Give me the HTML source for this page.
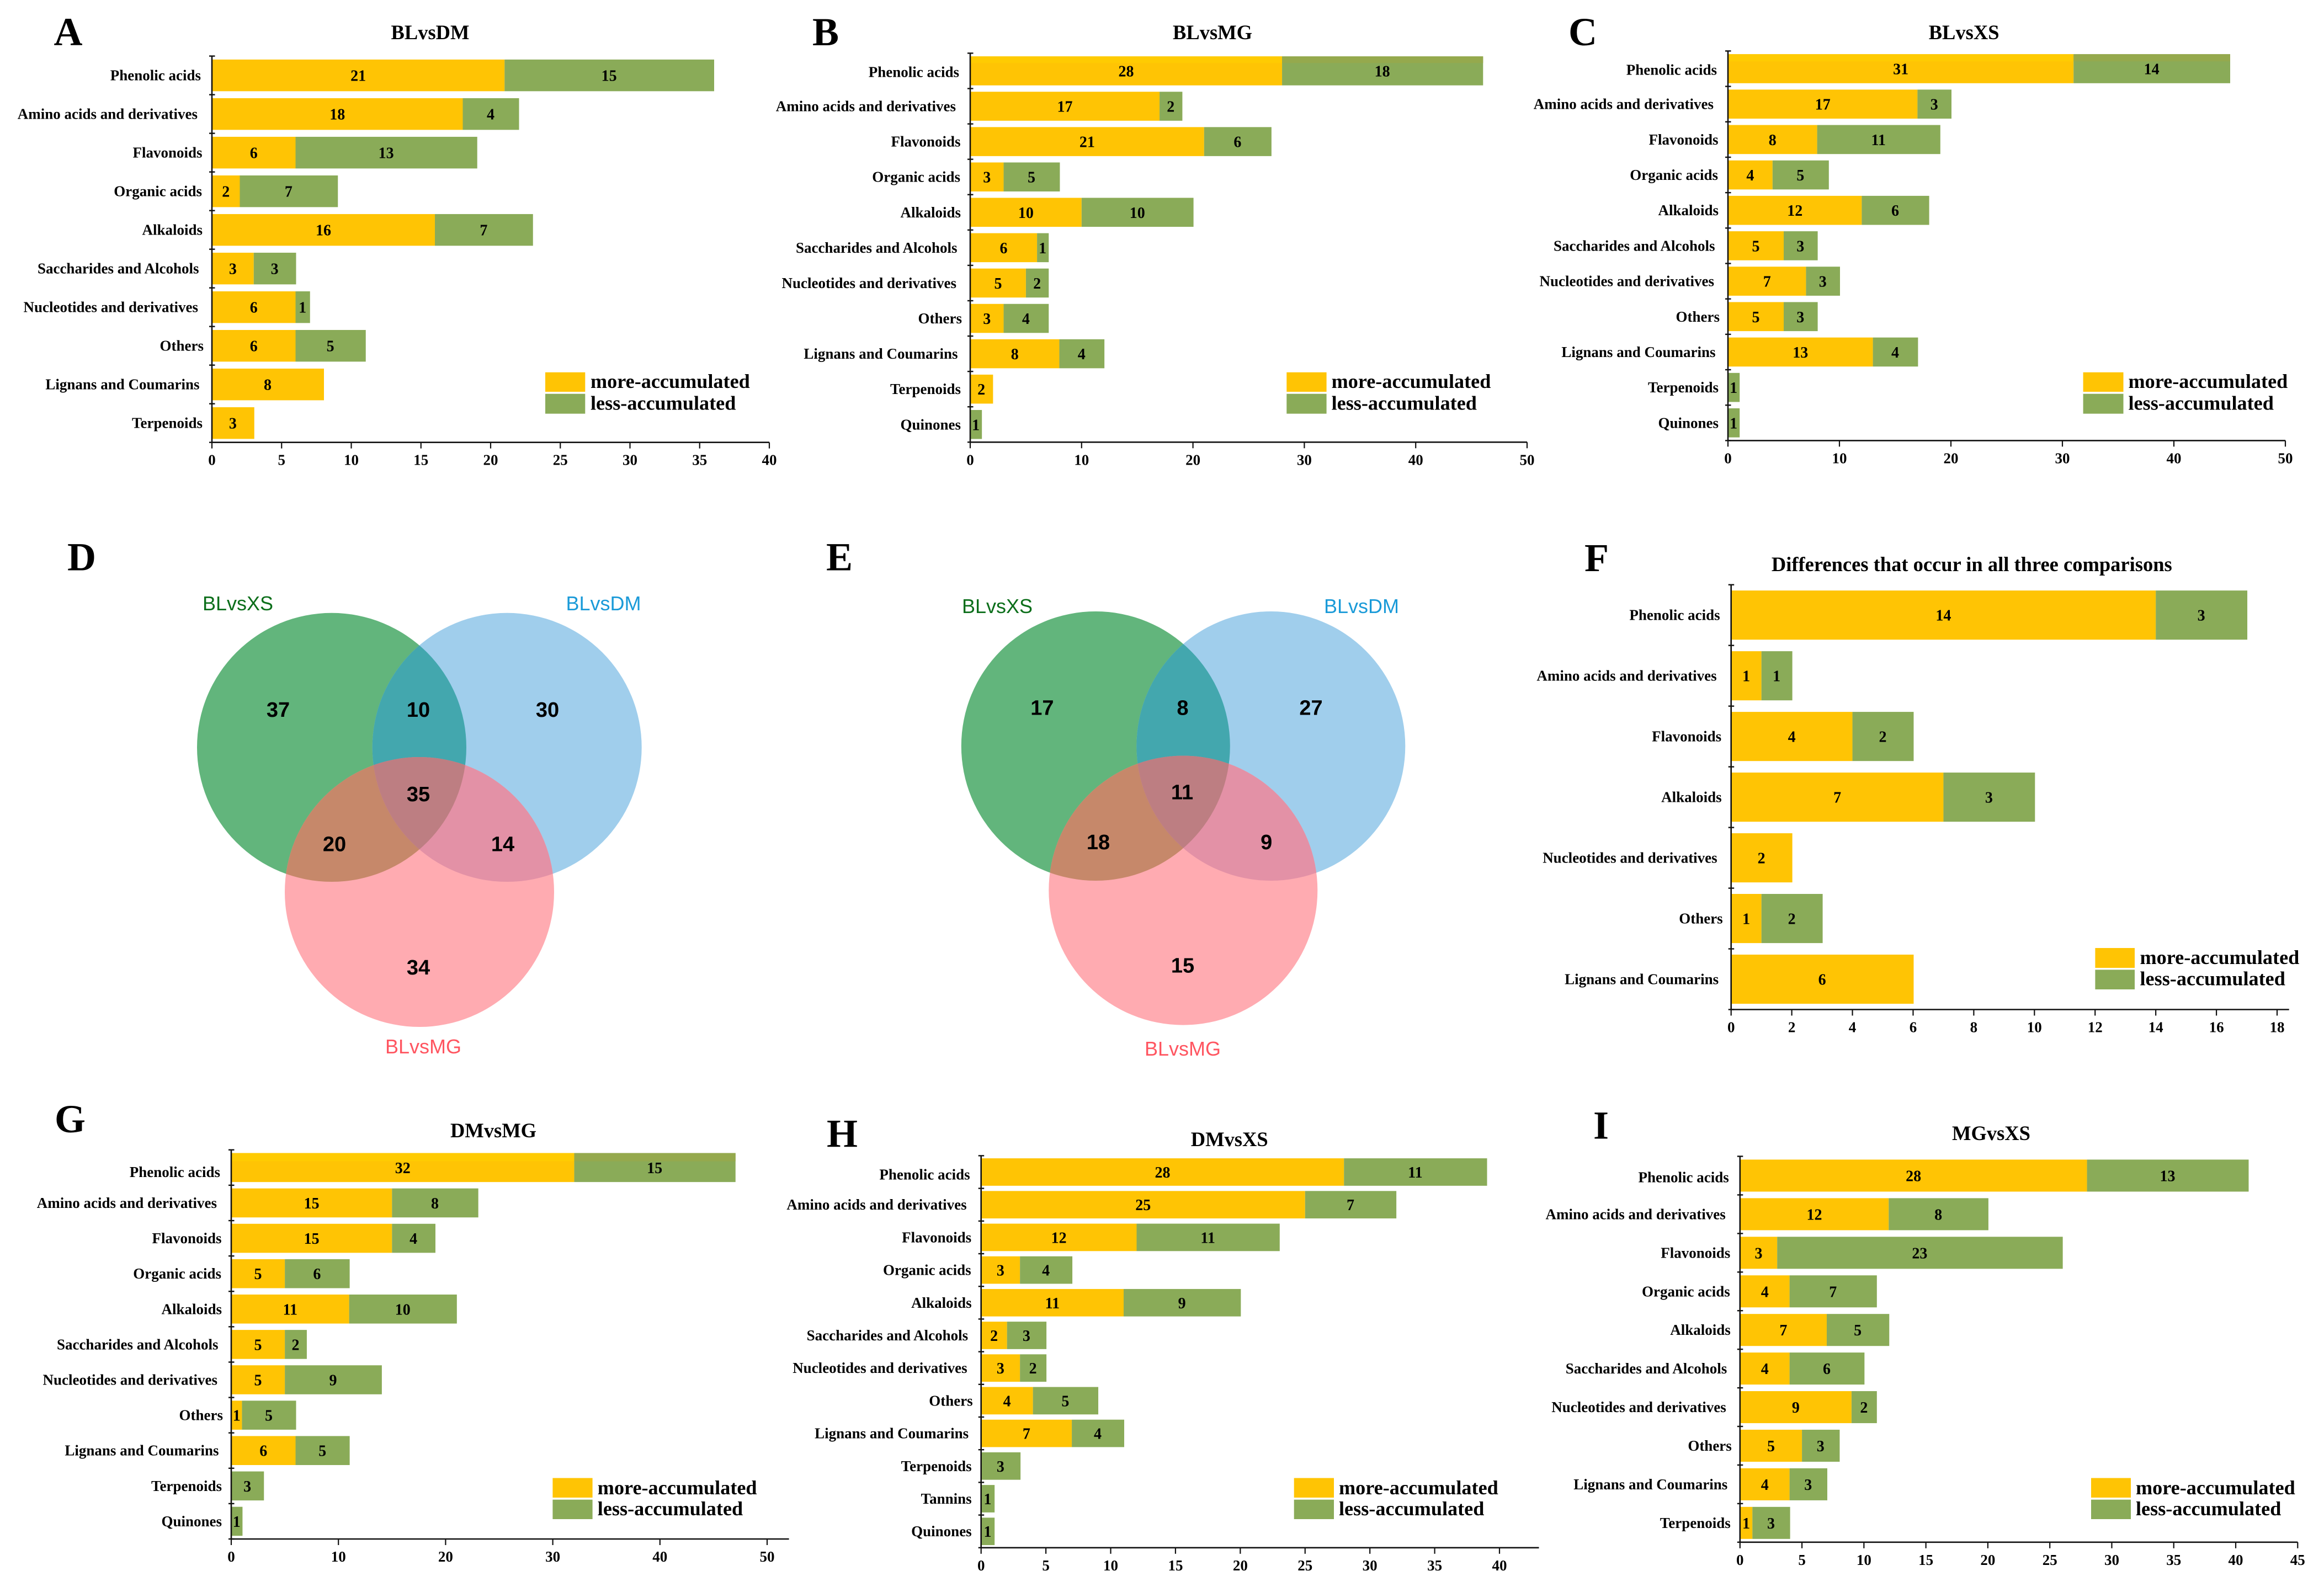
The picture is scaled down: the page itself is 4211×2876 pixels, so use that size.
<!DOCTYPE html>
<html lang="en">
<head>
<meta charset="utf-8">
<title>Differentially accumulated metabolites</title>
<style>
html,body{margin:0;padding:0;background:#fff;}
svg{display:block;}
.serif{font-family:"Liberation Serif",serif;font-weight:bold;fill:#000;}
.letter{font-size:72px;text-anchor:middle;}
.title{font-size:36.5px;text-anchor:middle;}
.legend-text{font-size:36.2px;}
.sans{font-family:"Liberation Sans",sans-serif;}
.venn-num{font-size:38px;font-weight:bold;fill:#000;text-anchor:middle;}
.venn-name{font-size:36px;}
</style>
</head>
<body>
<svg xmlns="http://www.w3.org/2000/svg" width="4211" height="2876" viewBox="0 0 4211 2876">
<rect width="4211" height="2876" fill="#ffffff"/>
<defs>
<clipPath id="d-g"><ellipse cx="601" cy="1354.4" rx="244" ry="243.6"/></clipPath>
<clipPath id="d-b"><ellipse cx="918.7" cy="1354.4" rx="244" ry="243.6"/></clipPath>
<clipPath id="d-p"><ellipse cx="760" cy="1616.5" rx="244" ry="244.5"/></clipPath>
<clipPath id="e-g"><ellipse cx="1985.3" cy="1352" rx="243.5" ry="244"/></clipPath>
<clipPath id="e-b"><ellipse cx="2302.8" cy="1352" rx="243.5" ry="244"/></clipPath>
<clipPath id="e-p"><ellipse cx="2143.8" cy="1613.6" rx="243.5" ry="244"/></clipPath>
</defs>

<!-- Panel letters -->
<text class="serif letter" x="123.5" y="82">A</text>
<text class="serif letter" x="1496" y="82">B</text>
<text class="serif letter" x="2868" y="82">C</text>
<text class="serif letter" x="148" y="1033.5">D</text>
<text class="serif letter" x="1521" y="1033.5">E</text>
<text class="serif letter" x="2893" y="1034.8">F</text>
<text class="serif letter" x="127" y="2052">G</text>
<text class="serif letter" x="1526" y="2078.6">H</text>
<text class="serif letter" x="2901" y="2063.4">I</text>

<!-- Chart titles -->
<text class="serif title" x="779.5" y="71">BLvsDM</text>
<text class="serif title" x="2197" y="71">BLvsMG</text>
<text class="serif title" x="3558.6" y="71">BLvsXS</text>
<text class="serif title" x="3572.8" y="1035">Differences that occur in all three comparisons</text>
<text class="serif title" x="894" y="2061">DMvsMG</text>
<text class="serif title" x="2227.7" y="2077">DMvsXS</text>
<text class="serif title" x="3608" y="2066">MGvsXS</text>

<!-- Bar chart containers, filled by the script -->
<g id="chart-a"></g>
<g id="chart-b"></g>
<g id="chart-c"></g>
<g id="chart-f"></g>
<g id="chart-g"></g>
<g id="chart-h"></g>
<g id="chart-i"></g>

<!-- Legends -->
<g>
<rect x="988" y="674.7" width="72.3" height="35.3" fill="#FFC404"/>
<rect x="988" y="713.7" width="72.3" height="36" fill="#8AAB58"/>
<text class="serif legend-text" x="1070" y="703">more-accumulated</text>
<text class="serif legend-text" x="1070" y="742.7">less-accumulated</text>
</g>
<g>
<rect x="2331.3" y="674.7" width="72.3" height="35.3" fill="#FFC404"/>
<rect x="2331.3" y="713.7" width="72.3" height="36" fill="#8AAB58"/>
<text class="serif legend-text" x="2412.6" y="703">more-accumulated</text>
<text class="serif legend-text" x="2412.6" y="742.7">less-accumulated</text>
</g>
<g>
<rect x="3774.6" y="674.7" width="72.9" height="35.3" fill="#FFC404"/>
<rect x="3774.6" y="713.7" width="72.9" height="36" fill="#8AAB58"/>
<text class="serif legend-text" x="3856.5" y="703">more-accumulated</text>
<text class="serif legend-text" x="3856.5" y="742.7">less-accumulated</text>
</g>
<g>
<rect x="3796.4" y="1718" width="71.6" height="36" fill="#FFC404"/>
<rect x="3796.4" y="1757.4" width="71.6" height="35.6" fill="#8AAB58"/>
<text class="serif legend-text" x="3877.5" y="1747">more-accumulated</text>
<text class="serif legend-text" x="3877.5" y="1785.5">less-accumulated</text>
</g>
<g>
<rect x="1001.4" y="2678.5" width="72.2" height="35.5" fill="#FFC404"/>
<rect x="1001.4" y="2717.7" width="72.2" height="35.3" fill="#8AAB58"/>
<text class="serif legend-text" x="1082.8" y="2707.8">more-accumulated</text>
<text class="serif legend-text" x="1082.8" y="2746">less-accumulated</text>
</g>
<g>
<rect x="2344.7" y="2678.5" width="72.3" height="35.5" fill="#FFC404"/>
<rect x="2344.7" y="2717.7" width="72.3" height="35.3" fill="#8AAB58"/>
<text class="serif legend-text" x="2426" y="2707.8">more-accumulated</text>
<text class="serif legend-text" x="2426" y="2746">less-accumulated</text>
</g>
<g>
<rect x="3789" y="2678.5" width="72" height="35.5" fill="#FFC404"/>
<rect x="3789" y="2717.7" width="72" height="35.3" fill="#8AAB58"/>
<text class="serif legend-text" x="3870" y="2707.8">more-accumulated</text>
<text class="serif legend-text" x="3870" y="2746">less-accumulated</text>
</g>

<!-- Venn D -->
<g>
<ellipse cx="601" cy="1354.4" rx="244" ry="243.6" fill="#62B57C"/>
<ellipse cx="918.7" cy="1354.4" rx="244" ry="243.6" fill="#A0CEEC"/>
<ellipse cx="760" cy="1616.5" rx="244" ry="244.5" fill="#FFABB1"/>
<g clip-path="url(#d-g)">
<rect x="300" y="1050" width="1000" height="900" fill="#43A7AE" clip-path="url(#d-b)"/>
<rect x="300" y="1050" width="1000" height="900" fill="#C6886A" clip-path="url(#d-p)"/>
</g>
<g clip-path="url(#d-b)">
<rect x="300" y="1050" width="1000" height="900" fill="#E391A6" clip-path="url(#d-p)"/>
<g clip-path="url(#d-g)">
<rect x="300" y="1050" width="1000" height="900" fill="#BD7E82" clip-path="url(#d-p)"/>
</g>
</g>
<text class="sans venn-name" x="367" y="1106" fill="#0B6E1A">BLvsXS</text>
<text class="sans venn-name" x="1025.5" y="1106" fill="#1A9AD8">BLvsDM</text>
<text class="sans venn-name" x="698" y="1909" fill="#FF5560">BLvsMG</text>
<text class="sans venn-num" x="504" y="1299">37</text>
<text class="sans venn-num" x="758" y="1299">10</text>
<text class="sans venn-num" x="992" y="1299">30</text>
<text class="sans venn-num" x="758" y="1452">35</text>
<text class="sans venn-num" x="606" y="1542.5">20</text>
<text class="sans venn-num" x="911" y="1542.5">14</text>
<text class="sans venn-num" x="758" y="1766">34</text>
</g>

<!-- Venn E -->
<g>
<ellipse cx="1985.3" cy="1352" rx="243.5" ry="244" fill="#62B57C"/>
<ellipse cx="2302.8" cy="1352" rx="243.5" ry="244" fill="#A0CEEC"/>
<ellipse cx="2143.8" cy="1613.6" rx="243.5" ry="244" fill="#FFABB1"/>
<g clip-path="url(#e-g)">
<rect x="1700" y="1050" width="1000" height="900" fill="#43A7AE" clip-path="url(#e-b)"/>
<rect x="1700" y="1050" width="1000" height="900" fill="#C6886A" clip-path="url(#e-p)"/>
</g>
<g clip-path="url(#e-b)">
<rect x="1700" y="1050" width="1000" height="900" fill="#E391A6" clip-path="url(#e-p)"/>
<g clip-path="url(#e-g)">
<rect x="1700" y="1050" width="1000" height="900" fill="#BD7E82" clip-path="url(#e-p)"/>
</g>
</g>
<text class="sans venn-name" x="1743" y="1111" fill="#0B6E1A">BLvsXS</text>
<text class="sans venn-name" x="2399" y="1111" fill="#1A9AD8">BLvsDM</text>
<text class="sans venn-name" x="2074" y="1913" fill="#FF5560">BLvsMG</text>
<text class="sans venn-num" x="1888.4" y="1295.6">17</text>
<text class="sans venn-num" x="2143" y="1295.6">8</text>
<text class="sans venn-num" x="2375.5" y="1295.6">27</text>
<text class="sans venn-num" x="2142" y="1448.7">11</text>
<text class="sans venn-num" x="1990" y="1539">18</text>
<text class="sans venn-num" x="2294.7" y="1539">9</text>
<text class="sans venn-num" x="2143" y="1762.5">15</text>
</g>
</svg>

<script>
// Panel A: BLvsDM
const categoriesA = ["Phenolic acids","Amino acids and derivatives","Flavonoids","Organic acids","Alkaloids","Saccharides and Alcohols","Nucleotides and derivatives","Others","Lignans and Coumarins","Terpenoids"];
const moreA = [21,18,6,2,16,3,6,6,8,3];
const lessA = [15,4,13,7,7,3,1,5,0,0];
const ticksA = [0,5,10,15,20,25,30,35,40];

// Panel B: BLvsMG
const categoriesB = ["Phenolic acids","Amino acids and derivatives","Flavonoids","Organic acids","Alkaloids","Saccharides and Alcohols","Nucleotides and derivatives","Others","Lignans and Coumarins","Terpenoids","Quinones"];
const moreB = [28,17,21,3,10,6,5,3,8,2,0];
const lessB = [18,2,6,5,10,1,2,4,4,0,1];
const ticksB = [0,10,20,30,40,50];

// Panel C: BLvsXS
const categoriesC = ["Phenolic acids","Amino acids and derivatives","Flavonoids","Organic acids","Alkaloids","Saccharides and Alcohols","Nucleotides and derivatives","Others","Lignans and Coumarins","Terpenoids","Quinones"];
const moreC = [31,17,8,4,12,5,7,5,13,0,0];
const lessC = [14,3,11,5,6,3,3,3,4,1,1];
const ticksC = [0,10,20,30,40,50];

// Panel F: differences in all three comparisons
const categoriesF = ["Phenolic acids","Amino acids and derivatives","Flavonoids","Alkaloids","Nucleotides and derivatives","Others","Lignans and Coumarins"];
const moreF = [14,1,4,7,2,1,6];
const lessF = [3,1,2,3,0,2,0];
const ticksF = [0,2,4,6,8,10,12,14,16,18];

// Panel G: DMvsMG
const categoriesG = ["Phenolic acids","Amino acids and derivatives","Flavonoids","Organic acids","Alkaloids","Saccharides and Alcohols","Nucleotides and derivatives","Others","Lignans and Coumarins","Terpenoids","Quinones"];
const moreG = [32,15,15,5,11,5,5,1,6,0,0];
const lessG = [15,8,4,6,10,2,9,5,5,3,1];
const ticksG = [0,10,20,30,40,50];

// Panel H: DMvsXS
const categoriesH = ["Phenolic acids","Amino acids and derivatives","Flavonoids","Organic acids","Alkaloids","Saccharides and Alcohols","Nucleotides and derivatives","Others","Lignans and Coumarins","Terpenoids","Tannins","Quinones"];
const moreH = [28,25,12,3,11,2,3,4,7,0,0,0];
const lessH = [11,7,11,4,9,3,2,5,4,3,1,1];
const ticksH = [0,5,10,15,20,25,30,35,40];

// Panel I: MGvsXS
const categoriesI = ["Phenolic acids","Amino acids and derivatives","Flavonoids","Organic acids","Alkaloids","Saccharides and Alcohols","Nucleotides and derivatives","Others","Lignans and Coumarins","Terpenoids"];
const moreI = [28,12,3,4,7,4,9,5,4,1];
const lessI = [13,8,23,7,5,6,2,3,3,3];
const ticksI = [0,5,10,15,20,25,30,35,40,45];

const SVG_NS = "http://www.w3.org/2000/svg";
const MORE_COLOR = "#FFC404";
const LESS_COLOR = "#8AAB58";

// Layout only: how far each category label sits from the axis.
const labelGapStyle = {
  "Phenolic acids":20, "Amino acids and derivatives":26, "Flavonoids":17.5, "Organic acids":18,
  "Alkaloids":17, "Saccharides and Alcohols":23.5, "Nucleotides and derivatives":25, "Others":15,
  "Lignans and Coumarins":22.5, "Terpenoids":17, "Quinones":17, "Tannins":17
};

function make(tag, attrs, parent, text) {
  const el = document.createElementNS(SVG_NS, tag);
  for (const k in attrs) el.setAttribute(k, attrs[k]);
  if (text !== undefined) el.textContent = text;
  parent.appendChild(el);
  return el;
}
function slug(s) { return s.toLowerCase().replace(/[^a-z0-9]+/g, "-"); }

function drawBarChart(cfg, categories, more, less, ticks) {
  const root = document.getElementById(cfg.id);
  const domainMax = ticks[ticks.length - 1];
  const xScale = v => cfg.left + v * (cfg.right - cfg.left) / domainMax;
  const step = (cfg.bottom - cfg.top) / categories.length;
  const bandTop = i => cfg.top + i * step;
  const barH = step * cfg.fill;
  const barY = i => bandTop(i) + (step - barH) / 2;
  const serif = 'font-family:"Liberation Serif",serif;font-weight:bold;fill:#000;font-size:27px';
  const valueFont = 'font-family:"Liberation Serif",serif;font-weight:bold;fill:#000;font-size:28px';

  categories.forEach((name, i) => {
    const y = barY(i), cy = bandTop(i) + step / 2, key = slug(name);
    const m = more[i], l = less[i];
    if (m > 0) {
      const el = make("rect", {x: xScale(0), y: y, width: xScale(m) - xScale(0) + (l > 0 ? 0 : 1), height: barH, fill: MORE_COLOR}, root);
      
      
    }
    if (l > 0) {
      const el = make("rect", {x: xScale(m), y: y, width: xScale(m + l) - xScale(m) + 1, height: barH, fill: LESS_COLOR}, root);
      
      
    }
    if (i === 0 && cfg.strip > 0) {
      const s1 = make("rect", {x: xScale(0), y: y, width: xScale(m) - xScale(0), height: cfg.strip, fill: "#FFCB02"}, root);
      
      
      const s2 = make("rect", {x: xScale(m), y: y, width: xScale(m + l) - xScale(m) + 1, height: cfg.strip, fill: "#95A94D"}, root);
      
      
    }
    if (m > 0) {
      const t = make("text", {x: xScale(m / 2), y: cy + 10, "text-anchor": "middle", style: valueFont}, root, String(m));
      
      
    }
    if (l > 0) {
      const t = make("text", {x: xScale(m + l / 2), y: cy + 10, "text-anchor": "middle", style: valueFont}, root, String(l));
      
      
    }
    const labelY = cy + 9 + (i === 0 ? cfg.firstLabelDy : 0);
    const lab = make("text", {x: xScale(0) - labelGapStyle[name], y: labelY, "text-anchor": "end", style: serif}, root, name);
    
    
  });

  // y axis and band ticks
  const yAxis = make("line", {x1: cfg.left, x2: cfg.left, y1: cfg.top, y2: cfg.bottom, stroke: "#111", "stroke-width": 2.6}, root);
  
  
  for (let i = 0; i <= categories.length; i++) {
    const tk = make("line", {x1: cfg.left - 5, x2: cfg.left + 5.5, y1: bandTop(i), y2: bandTop(i), stroke: "#111", "stroke-width": 2.4}, root);
    
    
  }

  // x axis, ticks and tick labels
  const xAxis = make("line", {x1: cfg.left, x2: cfg.axisEnd, y1: cfg.bottom, y2: cfg.bottom, stroke: "#111", "stroke-width": 2.6}, root);
  
  
  ticks.forEach(v => {
    const tk = make("line", {x1: xScale(v), x2: xScale(v), y1: cfg.bottom, y2: cfg.bottom + 11, stroke: "#111", "stroke-width": 2.2}, root);
    
    
    const t = make("text", {x: xScale(v), y: cfg.bottom + 41, "text-anchor": "middle", style: serif}, root, String(v));
    
    
  });
}

drawBarChart({id:"chart-a", left:384,    right:1394,   axisEnd:1394,   top:101.6,  bottom:801.7,  fill:0.82, strip:0,  firstLabelDy:0}, categoriesA, moreA, lessA, ticksA);
drawBarChart({id:"chart-b", left:1758,   right:2767,   axisEnd:2767,   top:96.4,   bottom:801.3,  fill:0.82, strip:12, firstLabelDy:2}, categoriesB, moreB, lessB, ticksB);
drawBarChart({id:"chart-c", left:3131,   right:4141,   axisEnd:4141,   top:92.4,   bottom:798.4,  fill:0.82, strip:13, firstLabelDy:2}, categoriesC, moreC, lessC, ticksC);
drawBarChart({id:"chart-f", left:3136.7, right:4126,   axisEnd:4147.7, top:1059.7, bottom:1829.5, fill:0.81, strip:0,  firstLabelDy:0}, categoriesF, moreF, lessF, ticksF);
drawBarChart({id:"chart-g", left:419,    right:1390,   axisEnd:1429.6, top:2083.8, bottom:2789,   fill:0.82, strip:15, firstLabelDy:8}, categoriesG, moreG, lessG, ticksG);
drawBarChart({id:"chart-h", left:1777.7, right:2717,   axisEnd:2788.5, top:2094.4, bottom:2804.8, fill:0.84, strip:0,  firstLabelDy:4.7}, categoriesH, moreH, lessH, ticksH);
drawBarChart({id:"chart-i", left:3152.8, right:4163.3, axisEnd:4163.3, top:2095.5, bottom:2794.8, fill:0.83, strip:0,  firstLabelDy:3}, categoriesI, moreI, lessI, ticksI);
</script>
</body>
</html>
